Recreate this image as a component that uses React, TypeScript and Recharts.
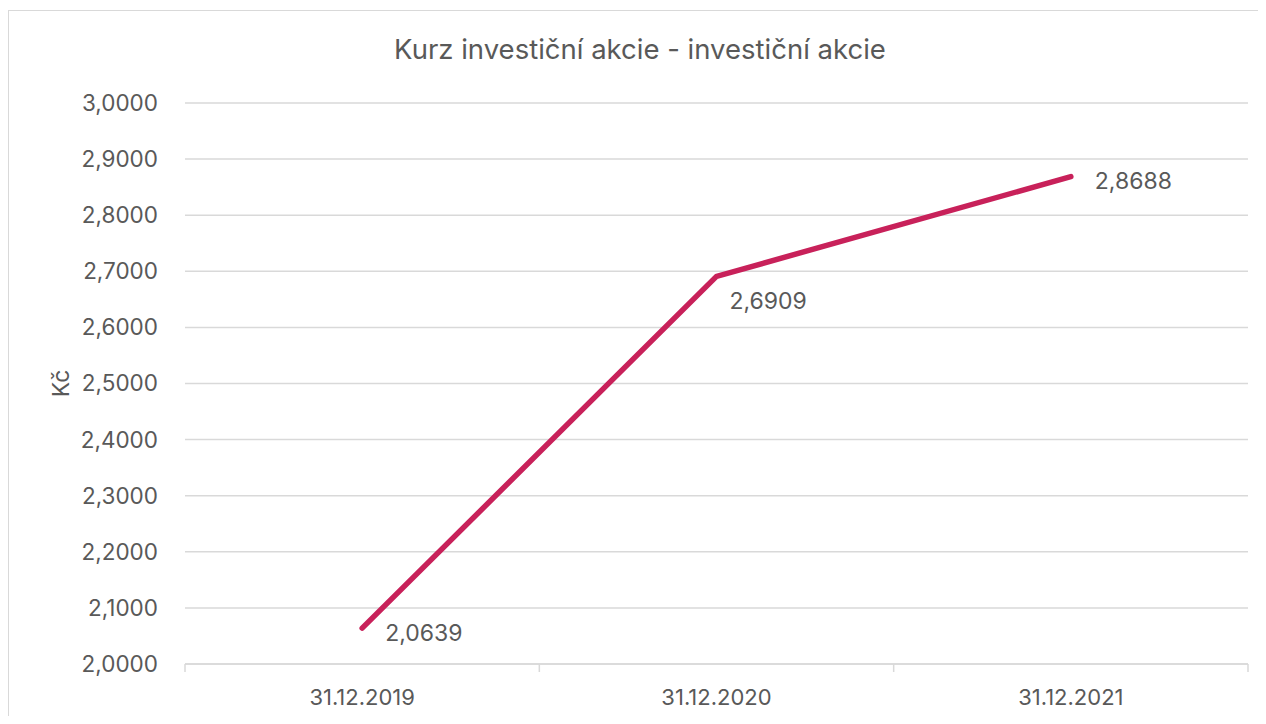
import React from 'react';
import { LineChart, Line, XAxis, YAxis, CartesianGrid, LabelList } from 'recharts';

const categories = ['31.12.2019', '31.12.2020', '31.12.2021'];
const prices = [2.0639, 2.6909, 2.8688];
const yTicks = [2.0, 2.1, 2.2, 2.3, 2.4, 2.5, 2.6, 2.7, 2.8, 2.9, 3.0];
const title = 'Kurz investiční akcie - investiční akcie';
const yAxisTitle = 'Kč';

const data = categories.map((c, i) => ({ date: c, value: prices[i] }));

const FONT = 'Inter, "Noto Sans", sans-serif';
const TEXT = '#595959';
const GRID = '#d9d9d9';
const LINE = '#C8215A';
const labelOffsets = [
  [23, 5],
  [13, 25],
  [24, 4],
];

const CHART_W = 1257;
const CHART_H = 705;
const Y_W = 176;
const RIGHT = 18;
const PLOT_W = CHART_W - Y_W - RIGHT;

const fmt = (v: number) => v.toFixed(4).replace('.', ',');

const ValueLabel = (props: any) => {
  const { x, y, value, index } = props;
  const [dx, dy] = labelOffsets[index];
  return (
    <text
      x={x + dx}
      y={y + dy}
      fill={TEXT}
      fontSize={23}
      fontFamily={FONT}
      dominantBaseline="central"
      textAnchor="start"
    >
      {fmt(value)}
    </text>
  );
};

const XTick = (props: any) => {
  const { x, y, payload, index } = props;
  const bw = PLOT_W / categories.length;
  const axisY = y - 0;
  return (
    <g>
      <line x1={x - bw / 2} x2={x - bw / 2} y1={axisY} y2={axisY + 8} stroke={GRID} strokeWidth={1.5} />
      {index === categories.length - 1 && (
        <line x1={x + bw / 2} x2={x + bw / 2} y1={axisY} y2={axisY + 8} stroke={GRID} strokeWidth={1.5} />
      )}
      <text
        x={x}
        y={axisY + 33}
        fill={TEXT}
        fontSize={22}
        fontFamily={FONT}
        textAnchor="middle"
        dominantBaseline="central"
      >
        {payload.value}
      </text>
    </g>
  );
};

const YTitle = (props: any) => {
  const { viewBox } = props;
  const cx = 52;
  const cy = viewBox.y + viewBox.height / 2;
  return (
    <text
      x={cx}
      y={cy}
      transform={`rotate(-90 ${cx} ${cy})`}
      fill={TEXT}
      fontSize={23}
      fontFamily={FONT}
      textAnchor="middle"
      dominantBaseline="central"
    >
      {yAxisTitle}
    </text>
  );
};

export default function App() {
  return (
    <div style={{ paddingTop: 2 }}>
      <div
        style={{
          position: 'relative',
          width: 1258,
          height: 706,
          borderLeft: `1px solid ${GRID}`,
          borderTop: `1px solid ${GRID}`,
          boxSizing: 'border-box',
          background: '#fff',
        }}
      >
        <div
          style={{
            position: 'absolute',
            top: 22,
            left: 6,
            width: 1250,
            textAlign: 'center',
            fontFamily: FONT,
            fontSize: 27.5,
            color: TEXT,
            lineHeight: '33px',
          }}
        >
          {title}
        </div>
        <LineChart
          width={CHART_W}
          height={CHART_H}
          data={data}
          margin={{ top: 92, right: RIGHT, bottom: 0, left: 0 }}
        >
          <CartesianGrid vertical={false} stroke={GRID} strokeWidth={1.5} />
          <XAxis
            dataKey="date"
            scale="band"
            height={52}
            axisLine={{ stroke: GRID, strokeWidth: 1.5 }}
            tickLine={false}
            tickSize={0}
            tickMargin={0}
            tick={<XTick />}
            interval={0}
          />
          <YAxis
            width={Y_W}
            domain={[2, 3]}
            ticks={yTicks}
            tickFormatter={fmt}
            axisLine={false}
            tickLine={false}
            tickMargin={21}
            tick={{ fill: TEXT, fontSize: 22.5, fontFamily: FONT }}
            label={{ content: YTitle }}
            interval={0}
          />
          <Line
            type="linear"
            dataKey="value"
            stroke={LINE}
            strokeWidth={5.5}
            strokeLinecap="round"
            dot={false}
            isAnimationActive={false}
          >
            <LabelList dataKey="value" content={ValueLabel} />
          </Line>
        </LineChart>
      </div>
    </div>
  );
}
